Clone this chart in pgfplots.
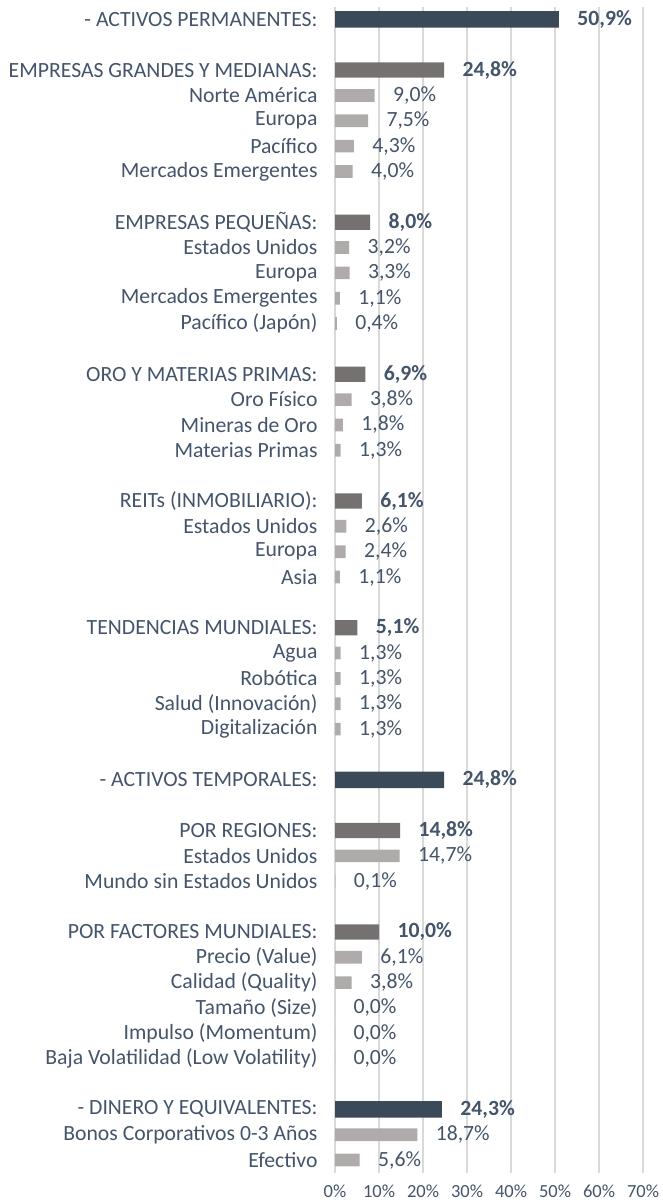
\documentclass[border=0pt]{standalone}
\usepackage{pgfplots}
\pgfplotsset{compat=1.18}
\usepackage{fontspec}
\setmainfont{Carlito}
\definecolor{navy}{HTML}{3B4A59}
\definecolor{dgray}{HTML}{757171}
\definecolor{lgray}{HTML}{AFABAB}
\definecolor{txt}{HTML}{44546A}
\definecolor{gridc}{HTML}{D9D9D9}
\begin{document}
\begin{tikzpicture}[font=\fontsize{21.7bp}{24bp}\selectfont]
\begin{axis}[
  scale only axis, width=308bp, height=1166bp,
  xbar, bar shift=0pt,
  xmin=0, xmax=70, ymin=0.5, ymax=46.5, y dir=reverse,
  enlargelimits=false,
  axis line style={draw=none}, tick style={draw=none},
  major tick length=0pt,
  xmajorgrids, grid style={color=gridc, line width=1.5bp},
  xtick={0,10,...,70},
  xticklabels={0\%,10\%,20\%,30\%,40\%,50\%,60\%,70\%},
  xticklabel style={text=txt, yshift=-9bp, font=\fontsize{18.5bp}{20bp}\selectfont},
  ytick={1,3,4,5,6,7,9,10,11,12,13,15,16,17,18,20,21,22,23,25,26,27,28,29,31,33,34,35,37,38,39,40,41,42,44,45,46},
  yticklabels={- ACTIVOS PERMANENTES:, EMPRESAS GRANDES Y MEDIANAS:, Norte América, Europa, Pacífico, Mercados Emergentes,
    EMPRESAS PEQUEÑAS:, Estados Unidos, Europa, Mercados Emergentes, Pacífico (Japón),
    ORO Y MATERIAS PRIMAS:, Oro Físico, Mineras de Oro, Materias Primas,
    REITs (INMOBILIARIO):, Estados Unidos, Europa, Asia,
    TENDENCIAS MUNDIALES:, Agua, Robótica, Salud (Innovación), Digitalización,
    - ACTIVOS TEMPORALES:, POR REGIONES:, Estados Unidos, Mundo sin Estados Unidos,
    POR FACTORES MUNDIALES:, Precio (Value), Calidad (Quality), Tamaño (Size), Impulso (Momentum), Baja Volatilidad (Low Volatility),
    - DINERO Y EQUIVALENTES:, Bonos Corporativos 0-3 Años, Efectivo},
  yticklabel style={text=txt, xshift=-14bp},
  /pgf/number format/assume math mode=true,
  point meta=x,
  nodes near coords={\pgfmathprintnumber[fixed,fixed zerofill,precision=1,use comma]{\pgfplotspointmeta}\%},
  every node near coord/.append style={text=txt, anchor=west, xshift=15bp, font=\fontsize{21.7bp}{24bp}\selectfont},
]
\addplot[fill=navy, draw=none, bar width=0.65, every node near coord/.append style={font=\fontsize{21.7bp}{24bp}\selectfont\bfseries}] coordinates {
(50.9,1) (24.8,31) (24.3,44)};
\addplot[fill=dgray, draw=none, bar width=0.6, every node near coord/.append style={font=\fontsize{21.7bp}{24bp}\selectfont\bfseries}] coordinates {
(24.8,3) (8.0,9) (6.9,15) (6.1,20) (5.1,25) (14.8,33) (10.0,37)};
\addplot[fill=lgray, draw=none, bar width=0.5] coordinates {
(9.0,4) (7.5,5) (4.3,6) (4.0,7)
(3.2,10) (3.3,11) (1.1,12) (0.4,13)
(3.8,16) (1.8,17) (1.3,18)
(2.6,21) (2.4,22) (1.1,23)
(1.3,26) (1.3,27) (1.3,28) (1.3,29)
(14.7,34) (0.1,35)
(6.1,38) (3.8,39) (0.0,40) (0.0,41) (0.0,42)
(18.7,45) (5.6,46)};
\end{axis}
\path ([xshift=-335bp,yshift=6.7bp]current axis.north west) ([xshift=19bp,yshift=-30.3bp]current axis.south east);
\end{tikzpicture}
\end{document}
